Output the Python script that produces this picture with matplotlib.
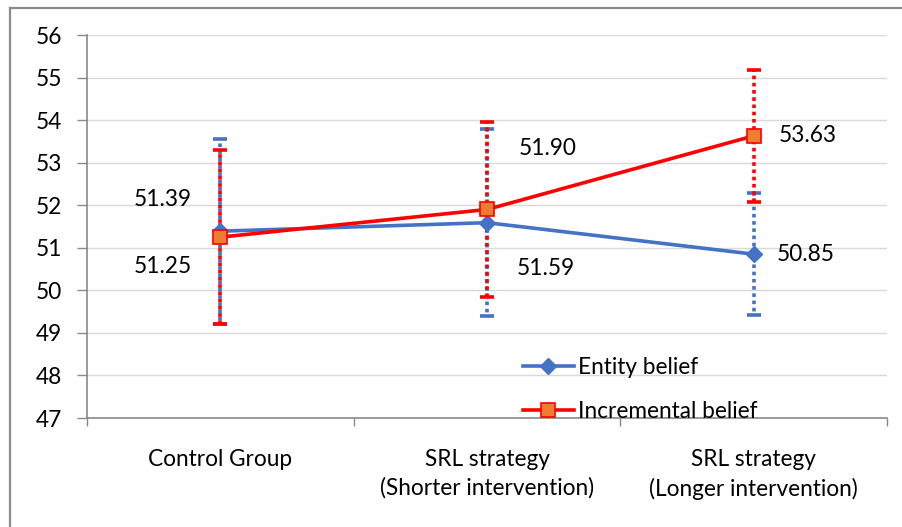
import matplotlib
matplotlib.use("Agg")
import matplotlib.pyplot as plt
from matplotlib.lines import Line2D

categories = ["Control Group", "SRL strategy\n(Shorter intervention)", "SRL strategy\n(Longer intervention)"]
entity = [51.39, 51.59, 50.85]
incremental = [51.25, 51.90, 53.63]
entity_err = [2.17, 2.20, 1.43]
incremental_err = [2.04, 2.05, 1.55]
y_ticks = [47, 48, 49, 50, 51, 52, 53, 54, 55, 56]

plt.rcParams["font.family"] = ["Lato", "DejaVu Sans"]
FS = 16.3

W, H = 902, 527
fig = plt.figure(figsize=(W / 100, H / 100), dpi=100)
ax = fig.add_axes([87 / W, 1 - 418 / H, 800 / W, 383 / H])

BLUE = "#4472C4"
RED = "#FF0000"
ORANGE = "#ED7D31"
x = list(range(len(categories)))

# error bars: dotted, blue and red dots interleaved
eb1 = ax.errorbar(x, entity, yerr=entity_err, fmt="none", ecolor=BLUE,
                  elinewidth=2.6, capsize=5, capthick=2.6, zorder=3)
eb1[2][0].set_linestyle((1.0, (1.0, 1.0)))
eb2 = ax.errorbar(x, incremental, yerr=incremental_err, fmt="none", ecolor=RED,
                  elinewidth=2.6, capsize=5, capthick=2.6, zorder=4)
eb2[2][0].set_linestyle((0, (1.0, 1.0)))

ax.plot(x, entity, color=BLUE, lw=2.6, marker="D", markersize=8,
        markerfacecolor=BLUE, markeredgecolor=BLUE, label="Entity belief", zorder=5)
ax.plot(x, incremental, color=RED, lw=2.6, marker="s", markersize=10,
        markerfacecolor=ORANGE, markeredgecolor=RED, markeredgewidth=1.2,
        label="Incremental belief", zorder=6)

# value labels (offsets in pixels)
ent_off = [(-58, 32), (59, -46), (52, 0)]
inc_off = [(-58, -29), (61, 61), (54, 0)]
for xi, v, off in zip(x, entity, ent_off):
    ax.annotate(f"{v:.2f}", (xi, v), xytext=off, textcoords="offset pixels",
                ha="center", va="center", fontsize=FS, color="#000000", zorder=7)
for xi, v, off in zip(x, incremental, inc_off):
    ax.annotate(f"{v:.2f}", (xi, v), xytext=off, textcoords="offset pixels",
                ha="center", va="center", fontsize=FS, color="#000000", zorder=7)

ax.set_xlim(-0.5, 2.5)
ax.set_ylim(47, 56)
ax.set_yticks(y_ticks)
ax.set_yticklabels([str(t) for t in y_ticks], fontsize=FS)
ax.set_xticks(x)
ax.set_xticklabels(categories, fontsize=FS, linespacing=1.45)
ax.set_xticks([-0.5, 0.5, 1.5, 2.5], minor=True)
ax.tick_params(axis="x", which="major", length=0, pad=22)
ax.tick_params(axis="x", which="minor", length=6, color="#898989", width=1)
ax.tick_params(axis="y", length=7, color="#898989", width=1, pad=11)

ax.grid(axis="y", color="#D9D9D9", lw=1)
ax.set_axisbelow(True)
for s in ["top", "right"]:
    ax.spines[s].set_visible(False)
for s in ["left", "bottom"]:
    ax.spines[s].set_color("#898989")
    ax.spines[s].set_linewidth(1.2)

leg = ax.legend(loc="upper left", bbox_to_anchor=(523 / W, 1 - 357 / H),
                bbox_transform=fig.transFigure, frameon=False, fontsize=FS,
                handlelength=2.25, handletextpad=0.2, labelspacing=1.0,
                borderpad=0, borderaxespad=0)

# outer chart border
fig.add_artist(Line2D([10 / W, 1], [1 - 8 / H, 1 - 8 / H], color="#8C8C8C", lw=1.6,
                      transform=fig.transFigure))
fig.add_artist(Line2D([10 / W, 10 / W], [0, 1 - 8 / H], color="#8C8C8C", lw=1.6,
                      transform=fig.transFigure))

fig.savefig("out.png", dpi=100, facecolor="white")
